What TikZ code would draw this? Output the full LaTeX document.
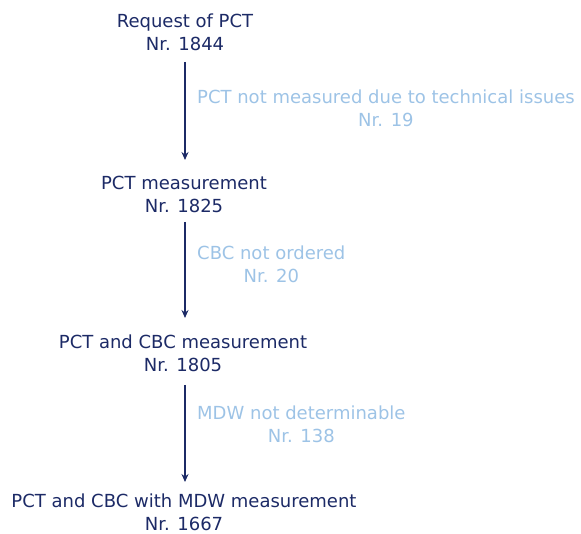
\documentclass[tikz,border=0pt]{standalone}
\usepackage{fontspec}
\setmainfont{DejaVu Sans}
\usetikzlibrary{arrows.meta}
\definecolor{navy}{HTML}{1C2A66}
\definecolor{paleblue}{HTML}{9DC3E6}
\begin{document}
\begin{tikzpicture}[x=1pt,y=-1pt,
  stage/.style={text=navy,align=center,font=\fontsize{18}{23}\selectfont,inner sep=0pt},
  drop/.style={text=paleblue,align=center,font=\fontsize{18}{23}\selectfont,inner sep=0pt,anchor=north west},
  flow/.style={draw=navy,line width=2pt,-{Stealth[length=8pt,width=7pt]}}]
\useasboundingbox (0,0) rectangle (581,534);
\node[stage] (s1) at (185,32) {Request of PCT\\Nr. 1844};
\node[stage] (s2) at (184,194) {PCT measurement\\Nr. 1825};
\node[stage] (s3) at (183,353) {PCT and CBC measurement\\Nr. 1805};
\node[stage] (s4) at (184,512) {PCT and CBC with MDW measurement\\Nr. 1667};
\coordinate (a1) at (185,62);  \coordinate (b1) at (185,160);
\coordinate (a2) at (185,222); \coordinate (b2) at (185,318);
\coordinate (a3) at (185,385); \coordinate (b3) at (185,482);
\draw[flow] (a1) -- (b1);
\draw[flow] (a2) -- (b2);
\draw[flow] (a3) -- (b3);
\node[drop] (d1) at (197,90) {PCT not measured due to technical issues\\Nr. 19};
\node[drop] (d2) at (197,246) {CBC not ordered\\Nr. 20};
\node[drop] (d3) at (197,406) {MDW not determinable\\Nr. 138};
\end{tikzpicture}
\end{document}
